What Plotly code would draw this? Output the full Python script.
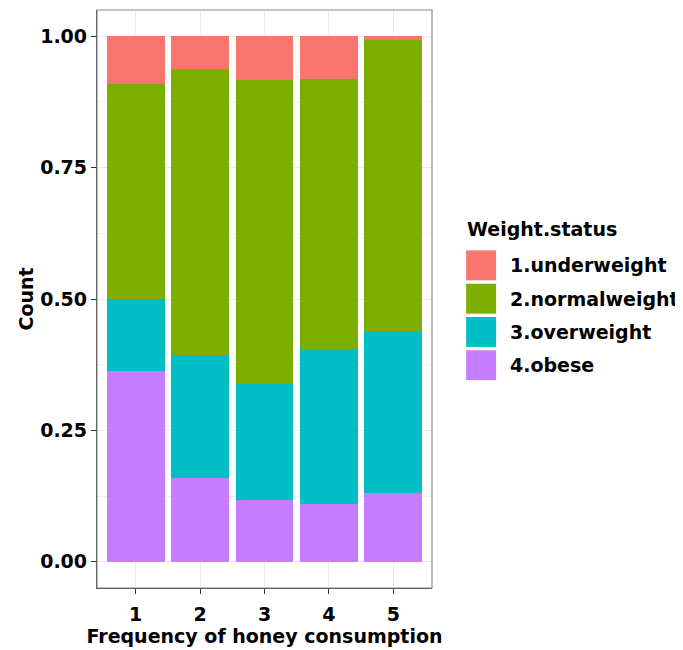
import plotly.graph_objects as go

categories = [1, 2, 3, 4, 5]
tick_labels = ["1", "2", "3", "4", "5"]
series_names = ["4.obese", "3.overweight", "2.normalweight", "1.underweight"]
obese = [0.363, 0.160, 0.117, 0.109, 0.130]
overweight = [0.137, 0.233, 0.222, 0.296, 0.309]
normalweight = [0.410, 0.545, 0.578, 0.513, 0.553]
underweight = [0.090, 0.063, 0.083, 0.082, 0.008]
colors = {"1.underweight": "#F8766D", "2.normalweight": "#7CAE00",
          "3.overweight": "#00BFC4", "4.obese": "#C77CFF"}
y_ticks = [0, 0.25, 0.5, 0.75, 1.0]
y_tick_labels = ["0.00", "0.25", "0.50", "0.75", "1.00"]

FONT = "DejaVu Sans"
FS = 19

# the page body has an 8px margin; figure is placed at (8, 8)
OFF = 8
W, H = 683 - OFF, 650 - OFF
panel_l, panel_r, panel_t, panel_b = 97 - OFF, 432.3 - OFF, 10 - OFF, 588.3 - OFF

fig = go.Figure()
for name, vals in zip(series_names, [obese, overweight, normalweight, underweight]):
    fig.add_trace(go.Bar(x=categories, y=vals, name=name,
                         marker=dict(color=colors[name], line=dict(width=0)),
                         showlegend=False))

fig.update_layout(
    barmode="stack", bargap=0.1,
    width=W, height=H,
    margin=dict(l=panel_l, r=W - panel_r, t=panel_t, b=H - panel_b, autoexpand=False),
    plot_bgcolor="white", paper_bgcolor="white",
    font=dict(family=FONT, size=FS, color="black", weight="bold"),
)
fig.update_xaxes(
    range=[0.4, 5.6], tickvals=categories, ticktext=tick_labels,
    showgrid=True, gridcolor="#EBEBEB", gridwidth=1,
    ticks="outside", ticklen=5, tickcolor="#333333", ticklabelstandoff=4,
    showline=True, linecolor="#333333", linewidth=1.3,
    tickfont=dict(family=FONT, size=FS, color="black", weight="bold"),
    title=dict(text="Frequency of honey consumption", standoff=4,
               font=dict(family=FONT, size=FS, color="black", weight="bold")),
    zeroline=False, automargin=False,
)
fig.update_yaxes(
    range=[-0.05, 1.05], tickvals=y_ticks, ticktext=y_tick_labels,
    showgrid=True, gridcolor="#EBEBEB", gridwidth=1,
    minor=dict(tickvals=[0.125, 0.375, 0.625, 0.875], showgrid=True,
               gridcolor="#F0F0F0", gridwidth=0.6, ticklen=0),
    ticks="outside", ticklen=5, tickcolor="#333333",
    showline=True, linecolor="#333333", linewidth=1.3,
    tickfont=dict(family=FONT, size=FS, color="black", weight="bold"),
    title=dict(text="Count", standoff=1,
               font=dict(family=FONT, size=FS, color="black", weight="bold")),
    zeroline=False, automargin=False,
)

# panel border
fig.add_shape(type="rect", xref="paper", yref="paper", x0=0, y0=0, x1=1, y1=1,
              line=dict(color="#8a8a8a", width=1.2), fillcolor="rgba(0,0,0,0)", layer="above")

# custom legend (ggplot style), positions given in page pixels
pw, ph = panel_r - panel_l, panel_b - panel_t
def px_x(p):
    return (p - OFF - panel_l) / pw
def px_y(p):
    return (panel_b - (p - OFF)) / ph

fig.add_annotation(xref="paper", yref="paper", x=px_x(465), y=px_y(229),
                   xanchor="left", yanchor="middle", showarrow=False,
                   text="Weight.status",
                   font=dict(family=FONT, size=FS, color="black", weight="bold"))
legend_order = ["1.underweight", "2.normalweight", "3.overweight", "4.obese"]
for i, name in enumerate(legend_order):
    top = 250 + i * 33.3
    fig.add_shape(type="rect", xref="paper", yref="paper",
                  x0=px_x(466), x1=px_x(497), y0=px_y(top + 31), y1=px_y(top),
                  fillcolor=colors[name], line=dict(color="white", width=1))
    fig.add_annotation(xref="paper", yref="paper", x=px_x(508), y=px_y(top + 15.5),
                       xanchor="left", yanchor="middle", showarrow=False,
                       text=name,
                       font=dict(family=FONT, size=FS, color="black", weight="bold"))

fig.write_html("out.html")
